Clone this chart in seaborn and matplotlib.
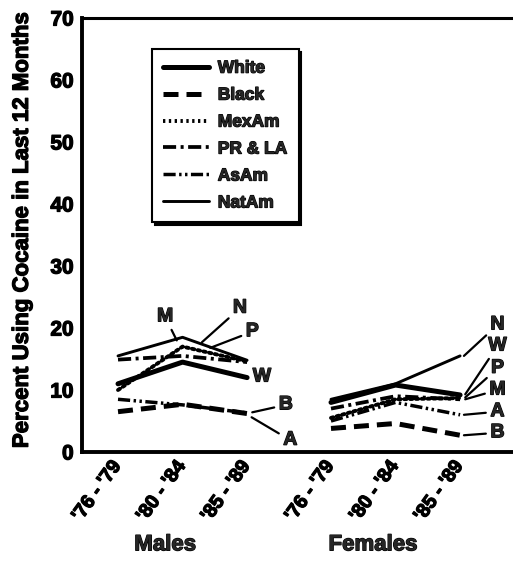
import numpy as np
import pandas as pd
import matplotlib
matplotlib.use("Agg")
import matplotlib.pyplot as plt
import matplotlib.transforms as mtrans
import matplotlib.patheffects as pe
from matplotlib.lines import Line2D
import seaborn as sns

# ---------------- data ----------------
groups = ["White", "Black", "MexAm", "PR & LA", "AsAm", "NatAm"]
periods = ["'76 - '79", "'80 - '84", "'85 - '89"]
sexes = ["Males", "Females"]

male_white = [11.0, 14.5, 12.0]
male_black = [6.5, 7.7, 6.2]
male_mexam = [10.0, 17.0, 14.6]
male_prla = [14.9, 15.5, 14.5]
male_asam = [8.5, 7.6, 6.3]
male_natam = [15.5, 18.5, 14.8]

female_white = [8.0, 10.8, 9.2]
female_black = [3.8, 4.6, 2.7]
female_mexam = [5.5, 8.5, 8.7]
female_prla = [7.0, 9.0, 8.5]
female_asam = [5.0, 8.0, 6.0]
female_natam = [8.5, 11.0, 15.5]

male_vals = [male_white, male_black, male_mexam, male_prla, male_asam, male_natam]
female_vals = [female_white, female_black, female_mexam, female_prla, female_asam, female_natam]

# ---------------- styles ----------------
sex_offset = {"Males": 0.0, "Females": 3.3}
line_styles = {
    "White": dict(lw=3.6, dashes=""),
    "Black": dict(lw=3.6, dashes=(3.0, 1.6)),
    "MexAm": dict(lw=2.8, dashes=(0.6, 0.9)),
    "PR & LA": dict(lw=2.7, dashes=(3.5, 1.2, 0.8, 1.2)),
    "AsAm": dict(lw=2.5, dashes=(3.5, 1.0, 0.7, 1.0, 0.7, 1.0)),
    "NatAm": dict(lw=2.1, dashes=""),
}

rows = []
for sex, vals in zip(sexes, [male_vals, female_vals]):
    for g, series in zip(groups, vals):
        for i, (p, v) in enumerate(zip(periods, series)):
            rows.append(dict(sex=sex, group=g, period=p, pos=i + sex_offset[sex], pct=v))
df = pd.DataFrame(rows)

sns.set_theme(style="white")
plt.rcParams["font.family"] = ["Liberation Sans", "DejaVu Sans"]
plt.rcParams["font.weight"] = "bold"
plt.rcParams["axes.labelweight"] = "bold"

heavy = [pe.withStroke(linewidth=0.9, foreground="black")]

fig = plt.figure(figsize=(5.13, 5.64), dpi=100)
ax = fig.add_axes([82 / 513, 112 / 564, 431 / 513, 434 / 564])

for g in groups:
    st = line_styles[g]
    sub = df[df["group"] == g]
    sns.lineplot(data=sub, x="pos", y="pct", units="sex", estimator=None,
                 style="group", dashes={g: st["dashes"]}, color="black",
                 linewidth=st["lw"], legend=False, ax=ax,
                 dash_capstyle="round" if g == "MexAm" else "butt")

ax.set_xlim(-0.558, 6.12)
ax.set_ylim(0, 70)
ax.set_yticks(range(0, 71, 10))

ticks = df.drop_duplicates(["sex", "period"])
ax.set_xticks(list(ticks["pos"]))
ax.set_xticklabels(list(ticks["period"]), rotation=54, ha="right", va="center",
                   rotation_mode="anchor", fontsize=14, fontweight="bold")
off = mtrans.ScaledTranslation(19 / 100, 0, fig.dpi_scale_trans)
for lab in ax.get_xticklabels():
    lab.set_transform(lab.get_transform() + off)
    lab.set_path_effects(heavy)

ax.tick_params(axis="y", direction="in", length=13, width=1.6, pad=6,
               labelsize=15, colors="black")
ax.tick_params(axis="x", direction="in", length=8, width=1.6, pad=8,
               colors="black")
for lab in ax.get_yticklabels():
    lab.set_fontweight("bold")
    lab.set_path_effects(heavy)

for side in ["left", "bottom", "top"]:
    ax.spines[side].set_visible(True)
    ax.spines[side].set_color("black")
    ax.spines[side].set_linewidth(2.8)
ax.spines["top"].set_linewidth(2.2)
ax.spines["right"].set_visible(False)

ax.set_xlabel("")
yl = ax.set_ylabel("Percent Using Cocaine in Last 12 Months", fontsize=16,
                   fontweight="bold", color="black")
yl.set_path_effects(heavy)
ax.yaxis.set_label_coords(-0.114, 0.51)

trans = mtrans.blended_transform_factory(ax.transData, ax.transAxes)
for xx, name in [(0.73, "Males"), (3.95, "Females")]:
    ax.text(xx, -0.214, name, transform=trans, ha="center", va="center",
            fontsize=16, fontweight="bold", path_effects=heavy)

# legend
handles = []
for g in groups:
    st = line_styles[g]
    h = Line2D([], [], color="black", lw=st["lw"])
    if st["dashes"]:
        h.set_dashes(st["dashes"])
    handles.append(h)
leg = ax.legend(handles, groups, loc="upper left",
                bbox_to_anchor=(0.162, 0.928), borderaxespad=0,
                frameon=True, fancybox=False,
                edgecolor="black", framealpha=1,
                handlelength=2.65, handletextpad=0.5, borderpad=0.65,
                labelspacing=0.68, shadow={"color": "black", "alpha": 1.0},
                prop={"weight": "bold", "size": 12.5})
leg.get_frame().set_linewidth(1.5)
for t in leg.get_texts():
    t.set_path_effects(heavy)

# end-of-line letter labels with leader lines
lead = dict(arrowstyle="-", lw=1.6, color="black", shrinkA=1, shrinkB=0)
fs = 14
def letter(txt, xy, xytext):
    if xy is None:
        ax.text(xytext[0], xytext[1], txt, fontsize=fs, ha="center",
                va="center", path_effects=heavy)
    else:
        ax.annotate(txt, xy=xy, xytext=xytext, fontsize=fs, ha="center",
                    va="center", arrowprops=lead, path_effects=heavy)

# males
letter("M", (0.91, 18.0), (0.73, 21.8))
letter("N", (1.30, 17.7), (1.89, 23.2))
letter("P", (1.43, 16.8), (2.08, 19.4))
letter("W", None, (2.23, 12.1))
letter("B", (2.08, 6.4), (2.60, 7.6))
letter("A", (2.07, 5.6), (2.67, 1.9))
# females
fx = 5.88
letter("N", (5.36, 15.5), (fx, 20.5))
letter("W", (5.38, 9.3), (fx, 17.1))
letter("P", (5.38, 8.8), (fx, 13.5))
letter("M", (5.38, 8.5), (fx, 10.0))
letter("A", (5.36, 6.0), (fx, 6.5))
letter("B", (5.36, 2.7), (fx, 3.1))

fig.savefig("out.png", dpi=100, facecolor="white")
